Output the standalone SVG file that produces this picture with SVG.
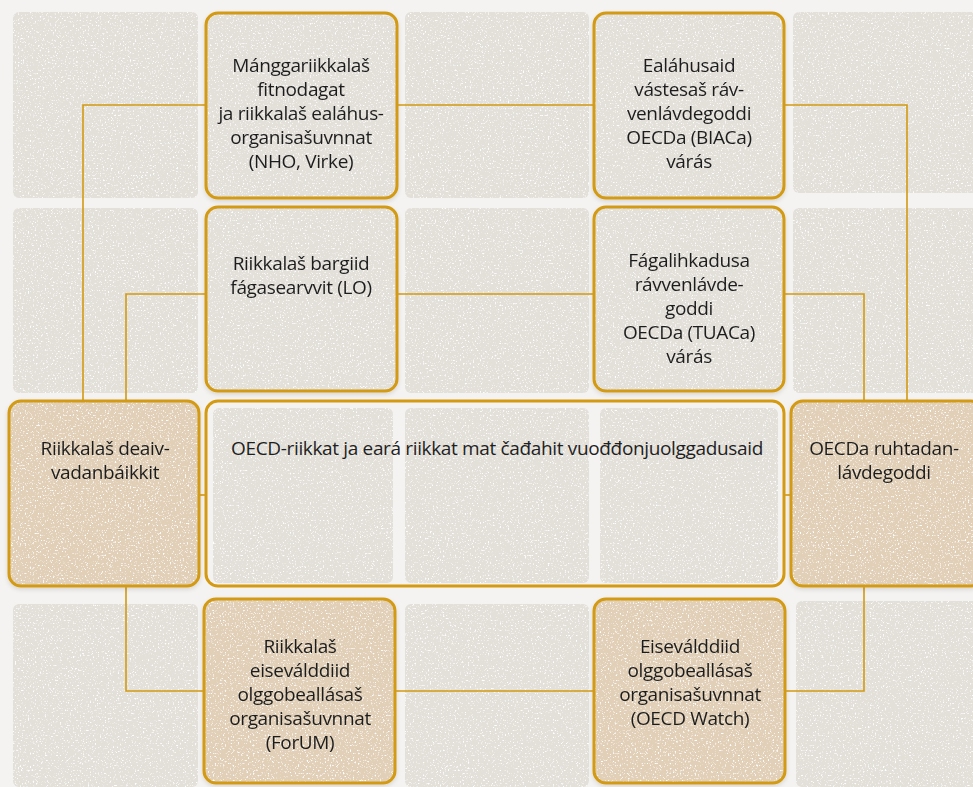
<svg xmlns="http://www.w3.org/2000/svg" width="973" height="787" viewBox="0 0 973 787">
<style>
.tile{fill:#e3dfd9}
.gf{fill:#e3dfd9}
.tf{fill:#e1d0b7}
.bd{fill:none;stroke:#d39a12;stroke-width:3}
.con path{fill:none;stroke:#d39a12;stroke-width:1.6}
text{font-family:"Open Sans","Noto Sans",sans-serif;font-size:19px;fill:#1f1f1f;text-anchor:middle;letter-spacing:-0.35px}
</style>
<defs>
<filter id="noise" x="0" y="0" width="100%" height="100%">
<feTurbulence type="fractalNoise" baseFrequency="0.6" numOctaves="2" seed="3" result="t"/>
<feColorMatrix in="t" type="matrix" values="0 0 0 0 1  0 0 0 0 1  0 0 0 0 1  0 0 0 -5 2.05" result="w"/>
<feComposite in="w" in2="SourceGraphic" operator="in" result="s"/>
<feMerge><feMergeNode in="SourceGraphic"/><feMergeNode in="s"/></feMerge>
</filter>
<filter id="sh" x="-5%" y="-5%" width="110%" height="115%">
<feDropShadow dx="0" dy="2" stdDeviation="2" flood-color="#000" flood-opacity="0.12"/>
</filter>
</defs>
<rect width="973" height="787" fill="#f5f3f1"/>
<g id="tiles" filter="url(#noise)">
<rect class="tile" x="13" y="12" width="185" height="186" rx="6"/>
<rect class="tile" x="405" y="12" width="184" height="186" rx="6"/>
<rect class="tile" x="793" y="12" width="190" height="181" rx="6"/>
<rect class="tile" x="13" y="208" width="185" height="185" rx="6"/>
<rect class="tile" x="405" y="208" width="184" height="185" rx="6"/>
<rect class="tile" x="793" y="208" width="190" height="185" rx="6"/>
<rect class="tile" x="213" y="408" width="180" height="175" rx="6"/>
<rect class="tile" x="405" y="408" width="184" height="175" rx="6"/>
<rect class="tile" x="600" y="408" width="178" height="175" rx="6"/>
<rect class="tile" x="13" y="604" width="185" height="183" rx="6"/>
<rect class="tile" x="405" y="604" width="184" height="183" rx="6"/>
<rect class="tile" x="796" y="601" width="187" height="186" rx="6"/>
</g>
<g class="con" id="connectors">
<path d="M206 105H83V401"/>
<path d="M397 105H594"/>
<path d="M784 105H907V401"/>
<path d="M206 294H126V401"/>
<path d="M397 294H594"/>
<path d="M784 294H864V401"/>
<path d="M199 495H206"/>
<path d="M784 495H791"/>
<path d="M126 586V691H204"/>
<path d="M395 691H594"/>
<path d="M785 691H864V586"/>
</g>
<g id="n1" filter="url(#sh)"><rect class="gf" filter="url(#noise)" x="206" y="13" width="191" height="185" rx="12"/><rect class="bd" x="206" y="13" width="191" height="185" rx="12"/>
<text x="301" y="72">Mánggariikkalaš</text><text x="301" y="96">fitnodagat</text><text x="301" y="120">ja riikkalaš ealáhus-</text><text x="301" y="144">organisašuvnnat</text><text x="301" y="168">(NHO, Virke)</text></g>
<g id="n2" filter="url(#sh)"><rect class="gf" filter="url(#noise)" x="594" y="13" width="190" height="185" rx="12"/><rect class="bd" x="594" y="13" width="190" height="185" rx="12"/>
<text x="689" y="72">Ealáhusaid</text><text x="689" y="96">vástesaš ráv-</text><text x="689" y="120">venlávdegoddi</text><text x="689" y="144">OECDa (BIACa)</text><text x="689" y="168">várás</text></g>
<g id="n3" filter="url(#sh)"><rect class="gf" filter="url(#noise)" x="206" y="207" width="191" height="184" rx="12"/><rect class="bd" x="206" y="207" width="191" height="184" rx="12"/>
<text x="301" y="270">Riikkalaš bargiid</text><text x="301" y="294">fágasearvvit (LO)</text></g>
<g id="n4" filter="url(#sh)"><rect class="gf" filter="url(#noise)" x="594" y="207" width="190" height="184" rx="12"/><rect class="bd" x="594" y="207" width="190" height="184" rx="12"/>
<text x="689" y="267">Fágalihkadusa</text><text x="689" y="291">rávvenlávde-</text><text x="689" y="315">goddi</text><text x="689" y="339">OECDa (TUACa)</text><text x="689" y="363">várás</text></g>
<g id="n5" filter="url(#sh)"><rect class="tf" filter="url(#noise)" x="9" y="401" width="190" height="185" rx="12"/><rect class="bd" x="9" y="401" width="190" height="185" rx="12"/>
<text x="105" y="455">Riikkalaš deaiv-</text><text x="105" y="479">vadanbáikkit</text></g>
<g id="n6"><rect class="bd" x="206" y="401" width="578" height="185" rx="12"/>
<text x="497" y="455">OECD-riikkat ja eará riikkat mat čađahit vuođđonjuolggadusaid</text></g>
<g id="n7" filter="url(#sh)"><rect class="tf" filter="url(#noise)" x="791" y="401" width="192" height="185" rx="12"/><rect class="bd" x="791" y="401" width="192" height="185" rx="12"/>
<text x="884" y="455">OECDa ruhtadan-</text><text x="884" y="479">lávdegoddi</text></g>
<g id="n8" filter="url(#sh)"><rect class="tf" filter="url(#noise)" x="204" y="599" width="191" height="184" rx="12"/><rect class="bd" x="204" y="599" width="191" height="184" rx="12"/>
<text x="300" y="653">Riikkalaš</text><text x="300" y="677">eiseválddiid</text><text x="300" y="701">olggobeallásaš</text><text x="300" y="725">organisašuvnnat</text><text x="300" y="749">(ForUM)</text></g>
<g id="n9" filter="url(#sh)"><rect class="tf" filter="url(#noise)" x="594" y="599" width="191" height="184" rx="12"/><rect class="bd" x="594" y="599" width="191" height="184" rx="12"/>
<text x="690" y="653">Eiseválddiid</text><text x="690" y="677">olggobeallásaš</text><text x="690" y="701">organisašuvnnat</text><text x="690" y="725">(OECD Watch)</text></g>
</svg>
